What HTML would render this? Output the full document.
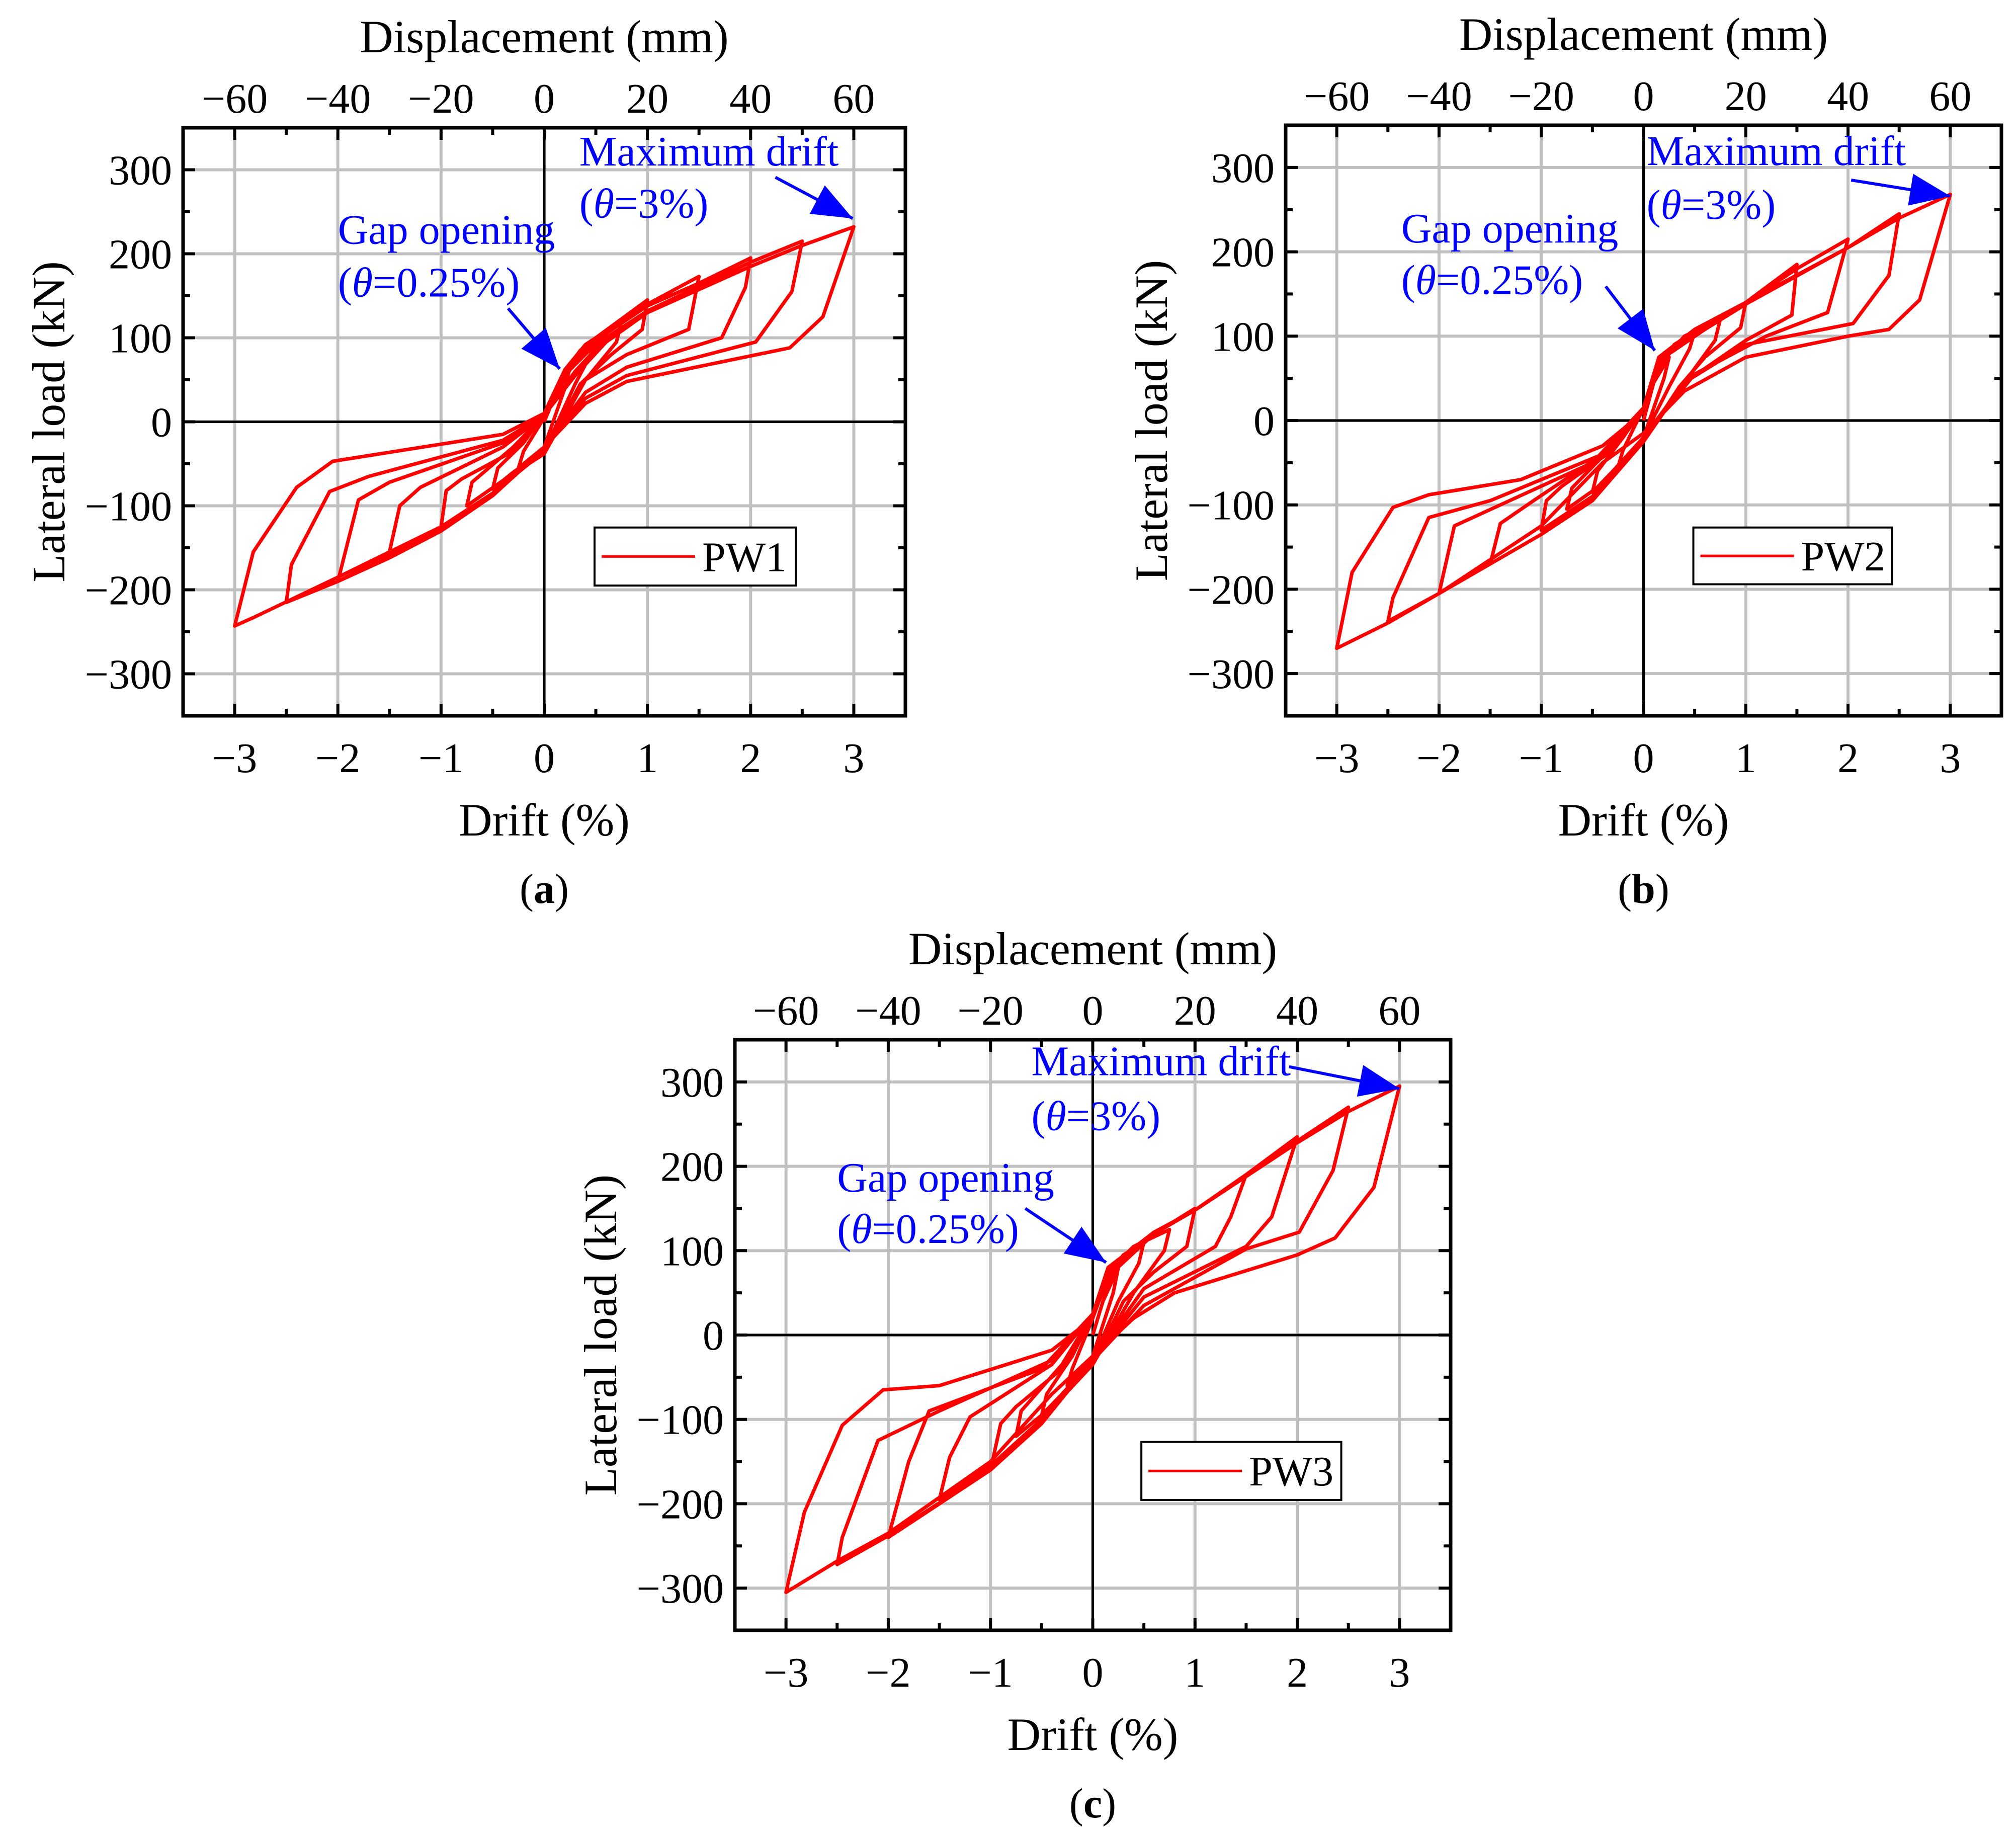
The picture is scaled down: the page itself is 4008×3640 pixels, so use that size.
<!DOCTYPE html>
<html><head><meta charset="utf-8"><style>
html,body{margin:0;padding:0;background:#fff;}
svg{display:block;font-family:"Liberation Serif",serif;}
</style></head><body>
<svg id="fig" width="4008" height="3640" viewBox="0 0 4008 3640" xmlns="http://www.w3.org/2000/svg">
<defs><marker id="ah" viewBox="0 0 10 8" refX="10" refY="4" markerUnits="userSpaceOnUse" markerWidth="80" markerHeight="64" orient="auto"><path d="M0,0 L10,4 L0,8 Z" fill="#0000ff"/></marker></defs>
</svg>
<script>
const ns="http://www.w3.org/2000/svg";
const driftTicks=[-3,-2,-1,0,1,2,3];
const dispTicks=[-60,-40,-20,0,20,40,60];
const loadTicks=[-300,-200,-100,0,100,200,300];
const panelNames=["(a)","(b)","(c)"];
const legendNames=["PW1","PW2","PW3"];
const pw1Drift=[0,0.1,0.25,0.2,0,-0.15,-0.25,-0.2,0, 0.2,0.35,0.5,0.45,0.3,0,-0.3,-0.5,-0.45,-0.2,0, 0.2,0.4,0.75,0.7,0.4,0,-0.4,-0.75,-0.7,-0.3,0, 0.2,0.5,1,0.95,0.65,0.35,0,-0.5,-1,-0.95,-0.8,-0.3,0, 0.2,0.6,1,1.5,1.4,0.8,0.4,0,-0.5,-1,-1.5,-1.4,-1.2,-0.4,0, 0.25,0.6,1,1.5,2,1.95,1.72,0.8,0.4,0,-0.5,-1,-1.5,-2,-1.8,-1.5,-0.4,0, 0.3,0.6,1,2,2.5,2.4,2.05,0.8,0.4,0,-0.5,-1,-2,-2.5,-2.45,-2.08,-1.7,-0.4,0, 0.3,0.6,1,2,2.5,3,2.7,2.38,0.8,0.4,0,-0.5,-1,-2,-2.8,-3,-2.82,-2.4,-2.05,-0.4,0];
const pw1Load=[0,30,65,40,-30,-45,-55,-35,5, 60,85,100,80,45,-35,-60,-80,-55,-25,10, 62,92,120,95,50,-38,-70,-100,-72,-30,8, 62,100,145,110,80,45,-35,-85,-125,-82,-68,-35,8, 60,108,140,173,110,80,50,-30,-88,-127,-155,-100,-78,-30,8, 62,105,138,165,195,160,100,65,35,-30,-88,-130,-162,-190,-93,-72,-25,8, 60,100,132,190,215,155,95,55,28,-32,-88,-128,-190,-215,-170,-83,-65,-22,8, 55,95,130,185,210,232,125,88,48,22,-30,-85,-125,-185,-232,-243,-155,-78,-47,-15,10];
const pw2Drift=[0,0.1,0.25,0.2,0,-0.15,-0.25,-0.2,0, 0.15,0.3,0.5,0.45,0.25,0,-0.3,-0.5,-0.45,-0.2,0, 0.15,0.4,0.75,0.7,0.4,0,-0.4,-0.75,-0.7,-0.3,0, 0.15,0.5,1,0.95,0.6,0.35,0,-0.5,-1,-0.95,-0.8,-0.3,0, 0.15,0.5,1,1.5,1.45,1,0.4,0,-0.5,-1,-1.5,-1.4,-1.1,-0.4,0, 0.2,0.6,1,1.5,2,1.8,1.2,0.5,0,-0.5,-1,-1.5,-2,-1.85,-1.4,-0.5,0, 0.2,0.6,1,2,2.5,2.4,2.05,1,0.4,0,-0.5,-1,-2,-2.5,-2.45,-2.1,-1.5,-0.4,0, 0.2,0.6,1,2,2.5,3,2.7,2.4,2,1,0.4,0,-0.4,-1,-2,-2.5,-3,-2.85,-2.45,-2.1,-1.2,-0.4,0];
const pw2Load=[0,45,75,50,-20,-40,-55,-35,15, 60,90,105,85,40,-20,-60,-85,-60,-20,15, 65,100,120,95,45,-25,-75,-105,-80,-30,15, 70,105,140,110,75,40,-25,-90,-130,-95,-78,-35,15, 75,108,140,185,125,95,45,-25,-95,-135,-170,-122,-97,-40,15, 80,110,140,180,215,128,100,55,-20,-95,-135,-170,-205,-125,-100,-50,15, 80,110,140,205,245,172,115,90,45,-20,-90,-135,-205,-238,-210,-115,-95,-40,15, 75,108,138,205,240,268,143,108,100,75,35,-15,-50,-125,-205,-240,-270,-180,-103,-88,-70,-30,10];
const pw3Drift=[0,0.1,0.25,0.2,0,-0.15,-0.25,-0.2,0, 0.15,0.3,0.5,0.45,0.25,0,-0.3,-0.5,-0.45,-0.2,0, 0.15,0.4,0.75,0.7,0.4,0,-0.4,-0.75,-0.7,-0.3,0, 0.15,0.6,1,0.92,0.6,0.3,0,-0.5,-1,-0.9,-0.75,-0.3,0, 0.15,0.6,1,1.5,1.35,1.2,0.5,0,-0.5,-1,-1.5,-1.4,-1.2,-0.4,0, 0.2,0.6,1,1.5,2,1.75,1.5,0.5,0,-0.5,-1,-1.5,-2,-1.8,-1.6,-0.5,0, 0.2,0.6,1,2,2.5,2.35,2.02,1.5,0.5,0,-0.5,-1,-2,-2.5,-2.45,-2.1,-1.5,-0.4,0, 0.2,0.6,1,2,2.5,3,2.75,2.37,2,0.8,0.4,0,-0.4,-1,-2,-2.5,-3,-2.82,-2.45,-2.05,-1.5,-0.4,0];
const pw3Load=[0,40,80,50,-25,-45,-60,-40,20, 70,95,110,85,40,-30,-70,-95,-70,-25,25, 75,105,125,100,50,-35,-85,-120,-90,-35,25, 78,120,150,105,75,40,-35,-100,-160,-105,-85,-40,25, 80,122,148,190,140,105,55,-30,-100,-155,-195,-145,-97,-35,25, 82,122,148,190,235,140,105,45,-30,-105,-160,-200,-240,-150,-90,-40,25, 80,122,148,230,270,195,122,102,35,-30,-105,-160,-238,-272,-240,-125,-90,-30,25, 75,120,148,228,265,295,175,115,95,50,20,-25,-70,-150,-235,-268,-305,-210,-107,-65,-60,-18,20];
const seriesDrift=[pw1Drift,pw2Drift,pw3Drift];
const seriesLoad=[pw1Load,pw2Load,pw3Load];
const maxAnno=[[0.34,305,243,2.24,291,2.99,242],[0.03,303,239,2.03,285,3.0,266],[-0.6,308,243,1.92,318,3.0,292]];
const gapAnno=[[-2.0,212,149,-0.35,135,0.15,63],[-2.37,211,150,-0.37,159,0.11,83],[-2.5,170,109,-0.66,150,0.13,86]];
const panels=[{L:364,R:1800,T:254,B:1423},{L:2556,R:3979,T:249,B:1423},{L:1461,R:2884,T:2067,B:3241}];
const legendBox=[[461,409,617,454],[1313,409,1467,453],[885,1118,1040,1163]];
const S=2.564;
const svg=document.getElementById('fig');
function el(tag,attrs,parent){const e=document.createElementNS(ns,tag);for(const k in attrs)e.setAttribute(k,attrs[k]);(parent||svg).appendChild(e);return e;}
function fmt(v){return v<0?"\u2212"+Math.abs(v):String(v);}
panels.forEach((p,i)=>{
  const g=el('g',{});
  
  
  const xs=d=>p.L+(d+3.5)/7*(p.R-p.L);
  const ys=v=>p.B-(v+350)/700*(p.B-p.T);
  driftTicks.forEach(t=>{const l=el('line',{x1:xs(t),x2:xs(t),y1:p.T,y2:p.B,stroke:'#c0c0c0','stroke-width':6},g);});
  loadTicks.forEach(t=>{const l=el('line',{x1:p.L,x2:p.R,y1:ys(t),y2:ys(t),stroke:'#c0c0c0','stroke-width':6},g);});
  const z1=el('line',{x1:xs(0),x2:xs(0),y1:p.T,y2:p.B,stroke:'#000','stroke-width':5},g);
  
  const z2=el('line',{x1:p.L,x2:p.R,y1:ys(0),y2:ys(0),stroke:'#000','stroke-width':5},g);
  
  const dr=seriesDrift[i],ld=seriesLoad[i];
  let d='';dr.forEach((x,k)=>{d+=(k?'L':'M')+xs(x).toFixed(1)+','+ys(ld[k]).toFixed(1);});
  const path=el('path',{d:d,fill:'none',stroke:'#ff0000','stroke-width':7,'stroke-linejoin':'round'},g);
  
  
  const fr=el('rect',{x:p.L,y:p.T,width:p.R-p.L,height:p.B-p.T,fill:'none',stroke:'#000','stroke-width':7},g);
  
  for(let t=-3.5;t<=3.5;t+=0.5){if(Math.abs(t)>3.4)continue;const major=Number.isInteger(t);const len=major?24:14;
    el('line',{x1:xs(t),x2:xs(t),y1:p.B,y2:p.B-len,stroke:'#000','stroke-width':6},g);
    el('line',{x1:xs(t),x2:xs(t),y1:p.T,y2:p.T+len,stroke:'#000','stroke-width':6},g);}
  for(let t=-300;t<=300;t+=50){const major=t%100===0;const len=major?24:14;
    el('line',{x1:p.L,x2:p.L+len,y1:ys(t),y2:ys(t),stroke:'#000','stroke-width':6},g);
    el('line',{x1:p.R,x2:p.R-len,y1:ys(t),y2:ys(t),stroke:'#000','stroke-width':6},g);}
  driftTicks.forEach(t=>{const tx=el('text',{x:xs(t),y:p.B+112,'font-size':84,'text-anchor':'middle'},g);tx.textContent=fmt(t);});
  dispTicks.forEach(t=>{const tx=el('text',{x:xs(t/20),y:p.T-30,'font-size':84,'text-anchor':'middle'},g);tx.textContent=fmt(t);});
  loadTicks.forEach(t=>{const tx=el('text',{x:p.L-22,y:ys(t)+29,'font-size':84,'text-anchor':'end'},g);tx.textContent=fmt(t);});
  const cx=(p.L+p.R)/2,cy=(p.T+p.B)/2;
  const xt=el('text',{x:cx,y:p.B+238,'font-size':92,'text-anchor':'middle'},g);xt.textContent='Drift (%)';
  
  const tt=el('text',{x:cx,y:p.T-150,'font-size':92,'text-anchor':'middle'},g);tt.textContent='Displacement (mm)';
  
  const yx=p.L-236;
  const yt=el('text',{x:yx,y:cy,'font-size':92,'text-anchor':'middle',transform:'rotate(-90 '+yx+' '+cy+')'},g);yt.textContent='Lateral load (kN)';
  
  const pl=el('text',{x:cx,y:p.B+372,'font-size':84,'text-anchor':'middle'},g);
  pl.innerHTML='(<tspan font-weight="bold">'+panelNames[i].slice(1,2)+'</tspan>)';
  
  [[maxAnno[i],'Maximum drift','3%','max-drift'],[gapAnno[i],'Gap opening','0.25%','gap-opening']].forEach(([a,l1,v,nm])=>{
    const t1=el('text',{x:xs(a[0]),y:ys(a[1]),'font-size':84,fill:'#0000ff'},g);t1.textContent=l1;
    
    const t2=el('text',{x:xs(a[0]),y:ys(a[2]),'font-size':84,fill:'#0000ff'},g);
    t2.innerHTML='(<tspan font-style="italic">θ</tspan>='+v+')';
    
    const ar=el('line',{x1:xs(a[3]),y1:ys(a[4]),x2:xs(a[5]),y2:ys(a[6]),stroke:'#0000ff','stroke-width':6,'marker-end':'url(#ah)'},g);
    
  });
  const b=legendBox[i].map(v=>v*S);
  const lg=el('g',{},g);
  
  el('rect',{x:b[0],y:b[1],width:b[2]-b[0],height:b[3]-b[1],fill:'#fff',stroke:'#000','stroke-width':4},lg);
  const my=(b[1]+b[3])/2;
  el('line',{x1:b[0]+14,x2:b[0]+200,y1:my,y2:my,stroke:'#ff0000','stroke-width':5},lg);
  const lt=el('text',{x:b[0]+214,y:my+29,'font-size':84},lg);lt.textContent=legendNames[i];
  
});
</script>
</body></html>
